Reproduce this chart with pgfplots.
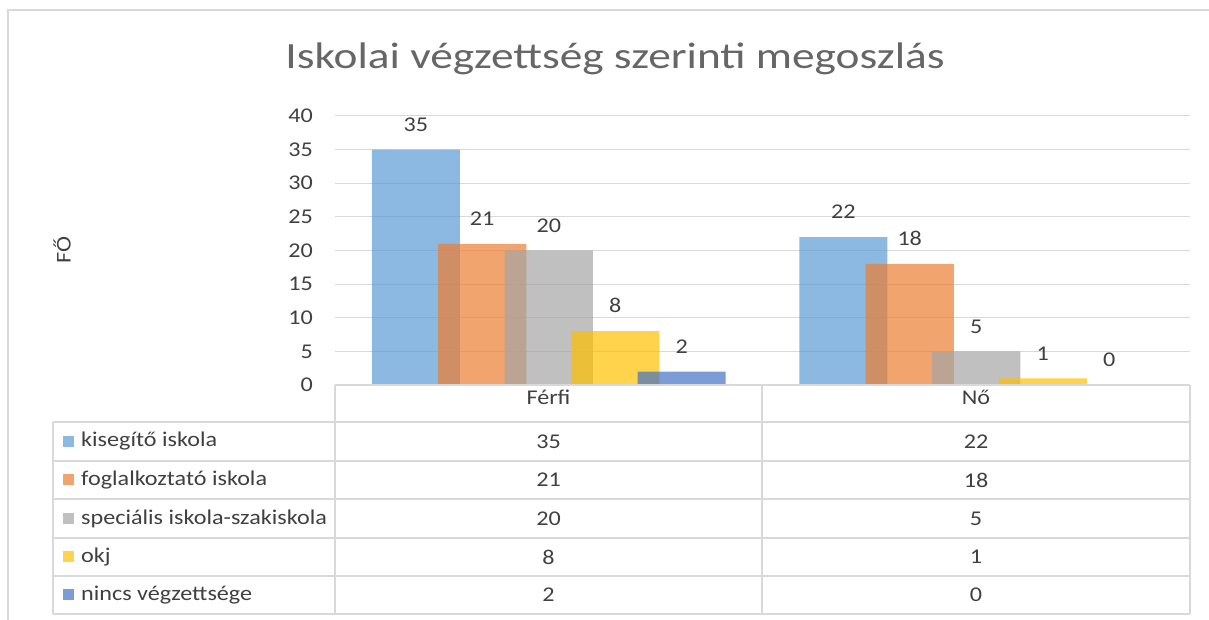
\documentclass[border=0pt]{standalone}
\usepackage{fontspec}
\setmainfont{Carlito}[FakeStretch=1.15]
\usepackage{pgfplots}
\pgfplotsset{compat=1.18}
\definecolor{cBlue}{HTML}{5B9BD5}
\definecolor{cOrange}{HTML}{ED7D31}
\definecolor{cGray}{HTML}{A5A5A5}
\definecolor{cYellow}{HTML}{FFC000}
\definecolor{cDBlue}{HTML}{4472C4}
\definecolor{txt}{HTML}{404040}
\definecolor{ttl}{HTML}{666666}
\definecolor{tline}{HTML}{D9D9D9}
\newcommand{\fs}{\fontsize{21}{25}\selectfont}
\begin{document}
\begin{tikzpicture}[x=1pt,y=1pt]
\useasboundingbox (0,0) rectangle (1209,620);
% outer frame (only left and top visible)
\draw[tline, line width=1.5pt] (8,0) -- (8,610) -- (1209,610);
% title and axis label
\node[ttl, font=\fontsize{37}{42}\selectfont, xscale=1.065] at (615,561) {Iskolai végzettség szerinti megoszlás};
\node[txt, font=\fs, rotate=90] at (62,370) {FŐ};
\begin{axis}[
  at={(335pt,235pt)}, anchor=south west,
  scale only axis, width=855pt, height=269pt,
  xmin=-0.5, xmax=1.5, ymin=0, ymax=40,
  ytick={0,5,...,40}, xtick=\empty,
  axis line style={draw=none},
  major tick length=0pt,
  ymajorgrids, grid style={tline, line width=1pt},
  yticklabel style={txt, font=\fs, inner sep=0pt, xshift=-22pt},
  /pgf/number format/assume math mode=true,
  ybar, bar width=0.206,
  nodes near coords,
  every node near coord/.append style={txt, font=\fs, inner sep=0pt, yshift=18pt},
  clip=false,
]
  \addplot[fill=cBlue, draw=none, fill opacity=0.7, text opacity=1, bar shift=-0.311] coordinates {(0,35) (1,22)};
  \addplot[fill=cOrange, draw=none, fill opacity=0.7, text opacity=1, bar shift=-0.1556] coordinates {(0,21) (1,18)};
  \addplot[fill=cGray, draw=none, fill opacity=0.7, text opacity=1, bar shift=0] coordinates {(0,20) (1,5)};
  \addplot[fill=cYellow, draw=none, fill opacity=0.7, text opacity=1, bar shift=0.1556] coordinates {(0,8) (1,1)};
  \addplot[fill=cDBlue, draw=none, fill opacity=0.7, text opacity=1, bar shift=0.311] coordinates {(0,2) (1,0)};
\end{axis}
% data table
\draw[tline, line width=1.3pt] (335,235) -- (1190,235);
\foreach \yy in {198,159,121,82,44,6} \draw[tline, line width=1.3pt] (53,\yy) -- (1190,\yy);
\draw[tline, line width=1.3pt] (53,198) -- (53,6);
\foreach \xx in {335,762,1190} \draw[tline, line width=1.3pt] (\xx,235) -- (\xx,6);
\node[txt, font=\fs] at (548.5,223) {Férfi};
\node[txt, font=\fs] at (976,223) {Nő};
\foreach \yy/\col/\name/\a/\b in {
  178.5/cBlue/kisegítő iskola/35/22,
  140/cOrange/foglalkoztató iskola/21/18,
  101.5/cGray/speciális iskola-szakiskola/20/5,
  63/cYellow/okj/8/1,
  25/cDBlue/nincs végzettsége/2/0} {
  \fill[\col, fill opacity=0.7] (63,\yy-5.5) rectangle (74,\yy+5.5);
  \node[txt, font=\fs, anchor=west, inner sep=0pt] at (81,\yy) {\name};
  \node[txt, font=\fs] at (548.5,\yy) {\a};
  \node[txt, font=\fs] at (976,\yy) {\b};
}
\end{tikzpicture}
\end{document}
